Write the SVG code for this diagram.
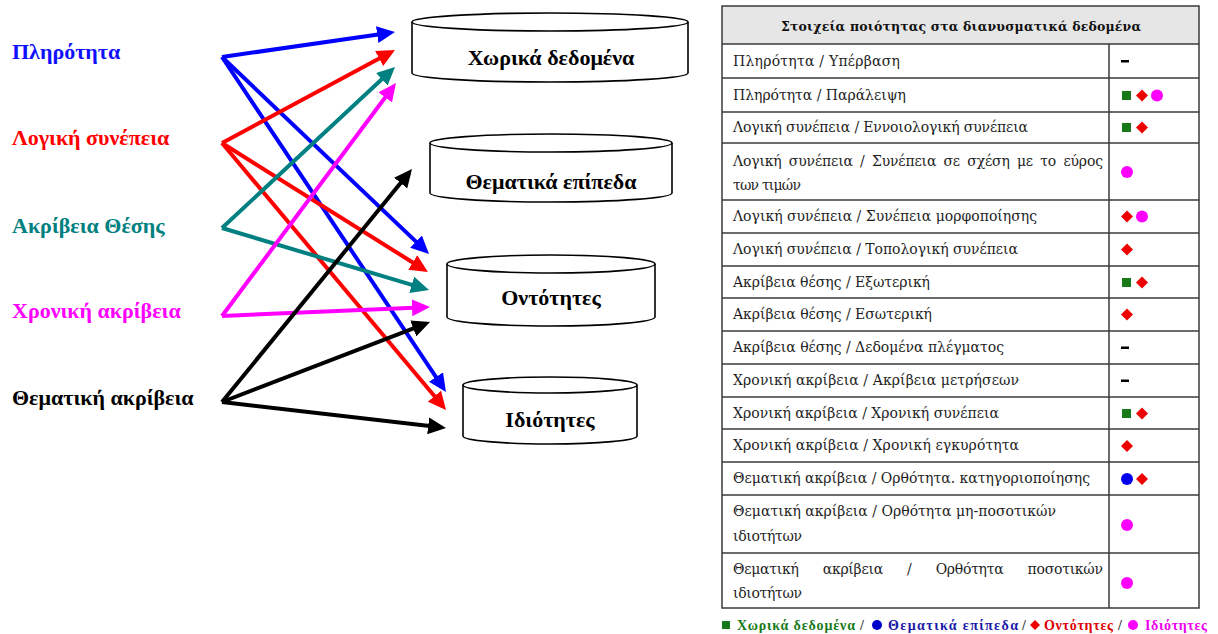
<svg xmlns="http://www.w3.org/2000/svg" width="1218" height="634" viewBox="0 0 1218 634">
  <style>
    .lbl { font-family: "Liberation Serif", "DejaVu Serif", serif; font-weight: bold; font-size: 22px; }
    .cyl-body { fill: #ffffff; stroke: #000000; stroke-width: 1.6; }
    .cyl-text { font-family: "Liberation Serif", "DejaVu Serif", serif; font-weight: bold; font-size: 22px; fill: #000000; text-anchor: middle; }
    .conn { fill: none; stroke-width: 4; stroke-linecap: butt; }
    .cell { font-family: "DejaVu Serif", "Liberation Serif", serif; font-size: 14px; fill: #1e1e1e; }
    .head { font-family: "DejaVu Serif", "Liberation Serif", serif; font-size: 12.5px; font-weight: bold; fill: #111111; text-anchor: middle; }
    .grid { stroke: #3a3a3a; stroke-width: 1.5; fill: none; }
    .leg { font-family: "Liberation Serif", "DejaVu Serif", serif; font-size: 14px; font-weight: bold; }
    .sq { fill: #177a17; }
    .dm { fill: #ee0000; }
    .cm { fill: #ff00ff; }
    .cb { fill: #0000ee; }
    .dash { fill: #000000; }
  </style>
  <defs>
    <marker id="ah-blue" markerUnits="userSpaceOnUse" viewBox="0 0 18 17" markerWidth="18" markerHeight="17" refX="8" refY="8.5" orient="auto">
      <path d="M0,0 L18,8.5 L0,17 z" fill="#0000ff"/>
    </marker>
    <marker id="ah-red" markerUnits="userSpaceOnUse" viewBox="0 0 18 17" markerWidth="18" markerHeight="17" refX="8" refY="8.5" orient="auto">
      <path d="M0,0 L18,8.5 L0,17 z" fill="#ff0000"/>
    </marker>
    <marker id="ah-teal" markerUnits="userSpaceOnUse" viewBox="0 0 18 17" markerWidth="18" markerHeight="17" refX="8" refY="8.5" orient="auto">
      <path d="M0,0 L18,8.5 L0,17 z" fill="#008080"/>
    </marker>
    <marker id="ah-mag" markerUnits="userSpaceOnUse" viewBox="0 0 18 17" markerWidth="18" markerHeight="17" refX="8" refY="8.5" orient="auto">
      <path d="M0,0 L18,8.5 L0,17 z" fill="#ff00ff"/>
    </marker>
    <marker id="ah-black" markerUnits="userSpaceOnUse" viewBox="0 0 18 17" markerWidth="18" markerHeight="17" refX="8" refY="8.5" orient="auto">
      <path d="M0,0 L18,8.5 L0,17 z" fill="#000000"/>
    </marker>
  </defs>

  <rect width="1218" height="634" fill="#ffffff"/>

  <!-- quality elements (sources) -->
  <g id="q-completeness"><text class="lbl" x="12" y="59" fill="#1010ff">Πληρότητα</text></g>
  <g id="q-logical"><text class="lbl" x="12" y="145" fill="#ff0000">Λογική συνέπεια</text></g>
  <g id="q-positional"><text class="lbl" x="12" y="233" fill="#008080">Ακρίβεια Θέσης</text></g>
  <g id="q-temporal"><text class="lbl" x="12" y="318" fill="#ff00ff">Χρονική ακρίβεια</text></g>
  <g id="q-thematic"><text class="lbl" x="12" y="405" fill="#000000">Θεματική ακρίβεια</text></g>

  <!-- data levels (cylinders) -->
  <g id="db-spatial">
    <path class="cyl-body" d="M412,22 L412,73 A138,9 0 0 0 688,73 L688,22"/>
    <ellipse class="cyl-body" cx="550" cy="22" rx="138" ry="9"/>
    <text class="cyl-text" x="551" y="65">Χωρικά δεδομένα</text>
  </g>
  <g id="db-layers">
    <path class="cyl-body" d="M430,143 L430,193 A121,9 0 0 0 672,193 L672,143"/>
    <ellipse class="cyl-body" cx="551" cy="143" rx="121" ry="9"/>
    <text class="cyl-text" x="551" y="189">Θεματικά επίπεδα</text>
  </g>
  <g id="db-entities">
    <path class="cyl-body" d="M447,264 L447,317 A104,9 0 0 0 655,317 L655,264"/>
    <ellipse class="cyl-body" cx="551" cy="264" rx="104" ry="9"/>
    <text class="cyl-text" x="551" y="305">Οντότητες</text>
  </g>
  <g id="db-attributes">
    <path class="cyl-body" d="M463,385 L463,436 A87,8 0 0 0 637,436 L637,385"/>
    <ellipse class="cyl-body" cx="550" cy="385" rx="87" ry="8"/>
    <text class="cyl-text" x="550" y="427">Ιδιότητες</text>
  </g>

  <!-- connectors -->
  <g id="connectors">
    <line class="conn" stroke="#0000ff" x1="222" y1="57" x2="385.1" y2="33.4" marker-end="url(#ah-blue)"/>
    <line class="conn" stroke="#0000ff" x1="222" y1="57" x2="421.8" y2="247.1" marker-end="url(#ah-blue)"/>
    <line class="conn" stroke="#0000ff" x1="222" y1="57" x2="440.4" y2="383.7" marker-end="url(#ah-blue)"/>
    <line class="conn" stroke="#ff0000" x1="222" y1="143" x2="386.2" y2="54.7" marker-end="url(#ah-red)"/>
    <line class="conn" stroke="#ff0000" x1="222" y1="143" x2="419.5" y2="266.7" marker-end="url(#ah-red)"/>
    <line class="conn" stroke="#ff0000" x1="222" y1="143" x2="439.6" y2="402.3" marker-end="url(#ah-red)"/>
    <line class="conn" stroke="#008080" x1="222" y1="228" x2="387.7" y2="73.8" marker-end="url(#ah-teal)"/>
    <line class="conn" stroke="#008080" x1="222" y1="228" x2="419.4" y2="287.1" marker-end="url(#ah-teal)"/>
    <line class="conn" stroke="#ff00ff" x1="222" y1="316" x2="390.0" y2="91.0" marker-end="url(#ah-mag)"/>
    <line class="conn" stroke="#ff00ff" x1="222" y1="316" x2="420.0" y2="307.4" marker-end="url(#ah-mag)"/>
    <line class="conn" stroke="#000000" x1="222" y1="402" x2="405.7" y2="176.8" marker-end="url(#ah-black)"/>
    <line class="conn" stroke="#000000" x1="222" y1="402" x2="420.7" y2="325.6" marker-end="url(#ah-black)"/>
    <line class="conn" stroke="#000000" x1="222" y1="402" x2="436.1" y2="426.8" marker-end="url(#ah-black)"/>
  </g>

  <!-- quality table -->
  <g id="quality-table">
    <rect x="722" y="6" width="477" height="38" fill="#e6e6e6"/>
    <text class="head" x="961" y="31" textLength="360" lengthAdjust="spacing">Στοιχεία ποιότητας στα διανυσματικά δεδομένα</text>

    <g class="grid">
      <rect x="722" y="6" width="477" height="602"/>
      <line x1="1109" y1="44" x2="1109" y2="608"/>
      <line x1="722" y1="44" x2="1199" y2="44"/>
      <line x1="722" y1="78" x2="1199" y2="78"/>
      <line x1="722" y1="112" x2="1199" y2="112"/>
      <line x1="722" y1="143" x2="1199" y2="143"/>
      <line x1="722" y1="200" x2="1199" y2="200"/>
      <line x1="722" y1="233" x2="1199" y2="233"/>
      <line x1="722" y1="266" x2="1199" y2="266"/>
      <line x1="722" y1="298" x2="1199" y2="298"/>
      <line x1="722" y1="331" x2="1199" y2="331"/>
      <line x1="722" y1="364" x2="1199" y2="364"/>
      <line x1="722" y1="397" x2="1199" y2="397"/>
      <line x1="722" y1="429" x2="1199" y2="429"/>
      <line x1="722" y1="462" x2="1199" y2="462"/>
      <line x1="722" y1="495" x2="1199" y2="495"/>
      <line x1="722" y1="553" x2="1199" y2="553"/>
    </g>

    <text class="cell" x="733" y="66" textLength="167" lengthAdjust="spacing">Πληρότητα / Υπέρβαση</text>
    <text class="cell" x="733" y="100" textLength="173" lengthAdjust="spacing">Πληρότητα / Παράλειψη</text>
    <text class="cell" x="733" y="132" textLength="295" lengthAdjust="spacing">Λογική συνέπεια / Εννοιολογική συνέπεια</text>
    <text class="cell" x="733" y="166" word-spacing="3" textLength="370" lengthAdjust="spacing">Λογική συνέπεια / Συνέπεια σε σχέση με το εύρος</text>
    <text class="cell" x="733" y="190" textLength="68" lengthAdjust="spacing">των τιμών</text>
    <text class="cell" x="733" y="221" textLength="304" lengthAdjust="spacing">Λογική συνέπεια / Συνέπεια μορφοποίησης</text>
    <text class="cell" x="733" y="254" textLength="285" lengthAdjust="spacing">Λογική συνέπεια / Τοπολογική συνέπεια</text>
    <text class="cell" x="733" y="287" textLength="197" lengthAdjust="spacing">Ακρίβεια θέσης / Εξωτερική</text>
    <text class="cell" x="733" y="319" textLength="199" lengthAdjust="spacing">Ακρίβεια θέσης / Εσωτερική</text>
    <text class="cell" x="733" y="352" textLength="271" lengthAdjust="spacing">Ακρίβεια θέσης / Δεδομένα πλέγματος</text>
    <text class="cell" x="733" y="385" textLength="286" lengthAdjust="spacing">Χρονική ακρίβεια / Ακρίβεια μετρήσεων</text>
    <text class="cell" x="733" y="418" textLength="266" lengthAdjust="spacing">Χρονική ακρίβεια / Χρονική συνέπεια</text>
    <text class="cell" x="733" y="450" textLength="286" lengthAdjust="spacing">Χρονική ακρίβεια / Χρονική εγκυρότητα</text>
    <text class="cell" x="733" y="483" textLength="357" lengthAdjust="spacing">Θεματική ακρίβεια / Ορθότητα. κατηγοριοποίησης</text>
    <text class="cell" x="733" y="516" textLength="323" lengthAdjust="spacing">Θεματική ακρίβεια / Ορθότητα μη-ποσοτικών</text>
    <text class="cell" x="733" y="541" textLength="69" lengthAdjust="spacing">ιδιοτήτων</text>
    <text class="cell" x="733" y="574" word-spacing="20" textLength="370" lengthAdjust="spacing">Θεματική ακρίβεια / Ορθότητα ποσοτικών</text>
    <text class="cell" x="733" y="598" textLength="69" lengthAdjust="spacing">ιδιοτήτων</text>

    <!-- level markers per row -->
    <rect class="dash" x="1121" y="60" width="8" height="2.5"/>

    <rect class="sq" x="1122" y="91" width="9" height="9"/>
    <polygon class="dm" points="1142,89.5 1148,95.5 1142,101.5 1136,95.5"/>
    <circle class="cm" cx="1157" cy="95.5" r="6"/>

    <rect class="sq" x="1122" y="123" width="9" height="9"/>
    <polygon class="dm" points="1142,121.5 1148,127.5 1142,133.5 1136,127.5"/>

    <circle class="cm" cx="1127" cy="172" r="6"/>

    <polygon class="dm" points="1127,210.5 1133,216.5 1127,222.5 1121,216.5"/>
    <circle class="cm" cx="1142" cy="216.5" r="6"/>

    <polygon class="dm" points="1127,243.5 1133,249.5 1127,255.5 1121,249.5"/>

    <rect class="sq" x="1122" y="278" width="9" height="9"/>
    <polygon class="dm" points="1142,276.5 1148,282.5 1142,288.5 1136,282.5"/>

    <polygon class="dm" points="1127,308.5 1133,314.5 1127,320.5 1121,314.5"/>

    <rect class="dash" x="1121" y="346.5" width="8" height="2.5"/>
    <rect class="dash" x="1121" y="379.5" width="8" height="2.5"/>

    <rect class="sq" x="1122" y="409" width="9" height="9"/>
    <polygon class="dm" points="1142,407.5 1148,413.5 1142,419.5 1136,413.5"/>

    <polygon class="dm" points="1127,440 1133,446 1127,452 1121,446"/>

    <circle class="cb" cx="1127" cy="479" r="6"/>
    <polygon class="dm" points="1142,473 1148,479 1142,485 1136,479"/>

    <circle class="cm" cx="1127" cy="525" r="6"/>
    <circle class="cm" cx="1127" cy="583" r="6"/>
  </g>

  <!-- legend -->
  <g id="legend">
    <rect class="sq" x="722" y="621" width="8" height="8"/>
    <text class="leg" x="737" y="630" fill="#177a17" textLength="118" lengthAdjust="spacing">Χωρικά δεδομένα</text>
    <text class="leg" x="860" y="630" fill="#333333">/</text>
    <circle cx="877" cy="625" r="5" fill="#0000cc"/>
    <text class="leg" x="888" y="630" fill="#1a1aa8" textLength="130" lengthAdjust="spacing">Θεματικά επίπεδα</text>
    <text class="leg" x="1022" y="630" fill="#333333">/</text>
    <polygon points="1035,620 1040,625 1035,630 1030,625" fill="#ee0000"/>
    <text class="leg" x="1044" y="630" fill="#dd0000" textLength="69" lengthAdjust="spacing">Οντότητες</text>
    <text class="leg" x="1118" y="630" fill="#333333">/</text>
    <circle cx="1133" cy="625" r="5" fill="#ff00ff"/>
    <text class="leg" x="1145" y="630" fill="#ee00ee" textLength="62" lengthAdjust="spacing">Ιδιότητες</text>
  </g>
</svg>
